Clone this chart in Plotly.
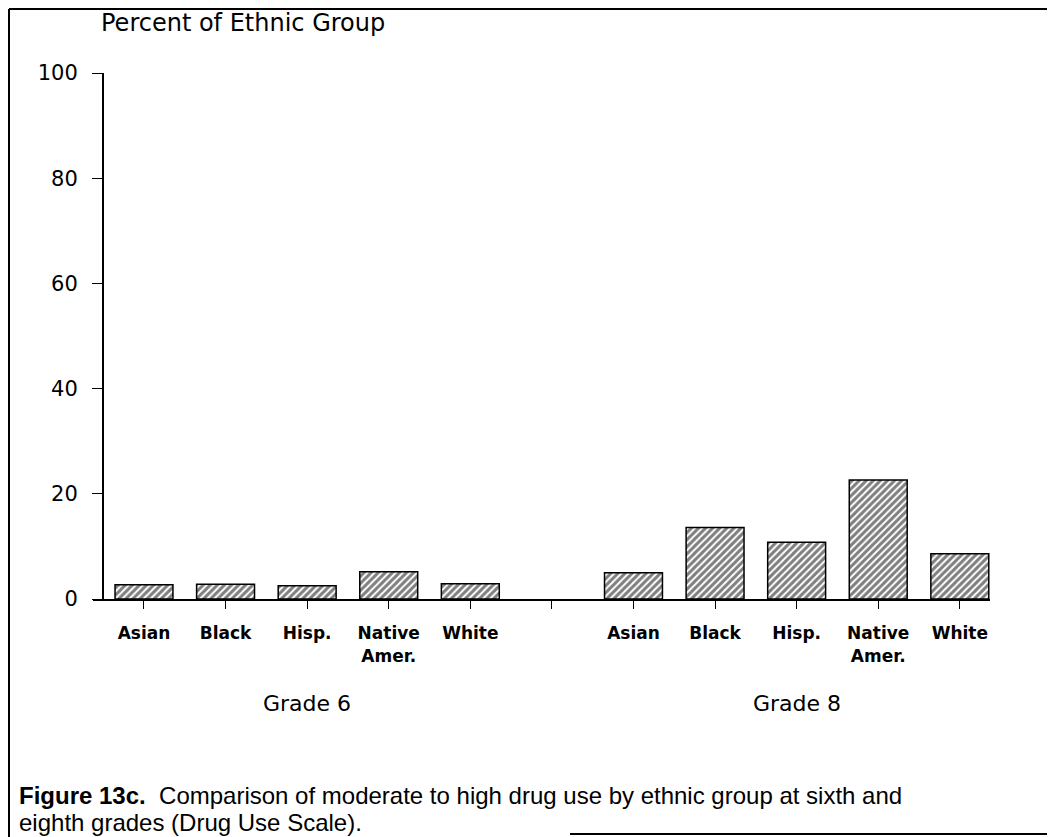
import plotly.graph_objects as go

categories = ["Asian", "Black", "Hisp.", "Native<br>Amer.", "White"]
grades = ["Grade 6", "Grade 8"]
grade6 = [2.7, 2.8, 2.5, 5.2, 2.9]
grade8 = [5.0, 13.6, 10.8, 22.6, 8.6]
y_ticks = [0, 20, 40, 60, 80, 100]
y_title = "Percent of Ethnic Group"
caption_bold = "Figure 13c."
caption_line1 = "  Comparison of moderate to high drug use by ethnic group at sixth and"
caption_line2 = "eighth grades (Drug Use Scale)."

# the page body has an 8px margin; work in page pixels and shift
OFF = 8
W, H = 1055 - OFF, 837 - OFF
L, R, T, B = 93 - OFF, 1055 - 990, 73 - OFF, 837 - 599
PW, PH = W - L - R, H - T - B

def px_x(p):
    return (p - OFF - L) / PW

def px_y(p):
    return (H - B - (p - OFF)) / PH

x6 = list(range(len(categories)))
x8 = [len(categories) + 1 + i for i in range(len(categories))]

bar_style = dict(
    color="white",
    line=dict(color="black", width=1.5),
    pattern=dict(shape="/", fgcolor="black", bgcolor="white", size=5, solidity=0.6),
)

fig = go.Figure()
fig.add_trace(go.Bar(x=x6, y=grade6, width=0.71, marker=bar_style, showlegend=False, name=grades[0]))
fig.add_trace(go.Bar(x=x8, y=grade8, width=0.71, marker=bar_style, showlegend=False, name=grades[1]))

tickvals = x6 + [len(categories)] + x8
ticktext = categories + [""] + categories

fig.update_layout(
    width=W, height=H,
    margin=dict(l=L, r=R, t=T, b=B, pad=0),
    paper_bgcolor="white", plot_bgcolor="white",
    font=dict(family="DejaVu Sans, sans-serif", color="black"),
    xaxis=dict(
        range=[-0.625, 10.37],
        tickmode="array", tickvals=tickvals, ticktext=ticktext,
        ticks="outside", ticklen=8, tickwidth=1, tickcolor="black",
        showline=True, linecolor="black", linewidth=2,
        showgrid=False, zeroline=False,
        tickfont=dict(family="DejaVu Sans, sans-serif", size=17, weight="bold"),
        ticklabelstandoff=10,
        fixedrange=True,
    ),
    yaxis=dict(
        range=[0, 100],
        anchor="free", position=10 / PW,
        tickmode="array", tickvals=y_ticks,
        ticks="outside", ticklen=10, tickwidth=1, tickcolor="black",
        showline=True, linecolor="black", linewidth=2,
        showgrid=False, zeroline=False,
        tickfont=dict(family="DejaVu Sans, sans-serif", size=21),
        ticklabelstandoff=10,
        fixedrange=True,
    ),
)

# axis title at top-left
fig.add_annotation(x=px_x(99), y=px_y(23), xref="paper", yref="paper",
                   text=y_title, showarrow=False, xanchor="left", yanchor="middle",
                   font=dict(family="DejaVu Sans, sans-serif", size=24))

# grade labels under groups
for xs, g in ((x6, grades[0]), (x8, grades[1])):
    fig.add_annotation(x=sum(xs) / len(xs), y=px_y(703), xref="x", yref="paper",
                       text=g, showarrow=False, xanchor="center", yanchor="middle",
                       font=dict(family="DejaVu Sans, sans-serif", size=22))

# caption
cap_font = dict(family="Liberation Sans Narrow, Arial Narrow, Liberation Sans, sans-serif", size=24)
fig.add_annotation(x=px_x(17), y=px_y(795), xref="paper", yref="paper",
                   text="<b>" + caption_bold + "</b>" + caption_line1,
                   showarrow=False, xanchor="left", yanchor="middle", align="left", font=cap_font)
fig.add_annotation(x=px_x(17), y=px_y(822), xref="paper", yref="paper",
                   text=caption_line2,
                   showarrow=False, xanchor="left", yanchor="middle", align="left", font=cap_font)

# frame lines
fig.add_shape(type="line", xref="paper", yref="paper", x0=px_x(9), x1=px_x(9), y0=px_y(9), y1=px_y(837),
              line=dict(color="black", width=2))
fig.add_shape(type="line", xref="paper", yref="paper", x0=px_x(9), x1=px_x(1055), y0=px_y(9), y1=px_y(9),
              line=dict(color="black", width=2))
fig.add_shape(type="line", xref="paper", yref="paper", x0=px_x(570), x1=px_x(1055), y0=px_y(834), y1=px_y(834),
              line=dict(color="black", width=2))

fig.write_html("out.html")
